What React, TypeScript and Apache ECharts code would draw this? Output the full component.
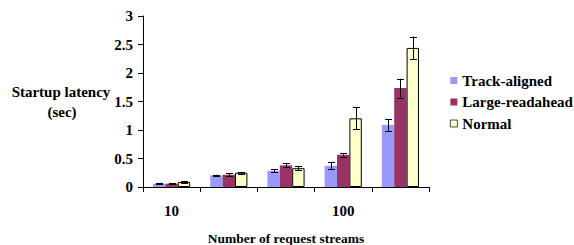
import React, { useEffect, useRef } from "react";
import * as echarts from "echarts";

const categories = ["10", "", "", "100", ""];
const seriesNames = ["Track-aligned", "Large-readahead", "Normal"];
const trackAligned = [0.058, 0.204, 0.285, 0.373, 1.09];
const largeReadahead = [0.058, 0.215, 0.38, 0.565, 1.735];
const normal = [0.087, 0.25, 0.33, 1.205, 2.44];
const trackAlignedErr = [0.01, 0.01, 0.03, 0.06, 0.105];
const largeReadaheadErr = [0.01, 0.03, 0.035, 0.03, 0.165];
const normalErr = [0.012, 0.015, 0.04, 0.19, 0.2];
const colors = ["#9999FF", "#993366", "#FFFFCC"];

const FONT = "'Liberation Serif', 'Times New Roman', serif";
const CAT_GAP = 0.35;

export default function App() {
  const ref = useRef<HTMLDivElement>(null);
  useEffect(() => {
    document.body.style.margin = "0";
    if (!ref.current) return;
    const chart = echarts.init(ref.current, undefined, { renderer: "svg" });
    const values = [trackAligned, largeReadahead, normal];
    const errs = [trackAlignedErr, largeReadaheadErr, normalErr];

    const barSeries = values.map((v, i) => ({
      name: seriesNames[i],
      type: "bar",
      data: v,
      barGap: "0%",
      barCategoryGap: CAT_GAP * 100 + "%",
      itemStyle: {
        color: colors[i],
        borderColor: i === 2 ? "#000" : undefined,
        borderWidth: i === 2 ? 1 : 0,
      },
      z: 2,
    }));

    const errSeries = values.map((v, i) => ({
      type: "custom",
      name: "err" + i,
      data: v.map((val, j) => [j, val - errs[i][j], val + errs[i][j]]),
      z: 5,
      silent: true,
      renderItem: (params: any, api: any) => {
        const x = api.value(0);
        const lo = api.coord([x, api.value(1)]);
        const hi = api.coord([x, api.value(2)]);
        const band = api.size([1, 0])[0];
        const bw = (band * (1 - CAT_GAP)) / 3;
        const cx = Math.round(lo[0] + (i - 1) * bw) + 0.5;
        const cap = 3.5;
        const style = { stroke: "#000", lineWidth: 1 };
        return {
          type: "group",
          children: [
            { type: "line", shape: { x1: cx, y1: lo[1], x2: cx, y2: hi[1] }, style },
            { type: "line", shape: { x1: cx - cap, y1: Math.round(lo[1]) + 0.5, x2: cx + cap, y2: Math.round(lo[1]) + 0.5 }, style },
            { type: "line", shape: { x1: cx - cap, y1: Math.round(hi[1]) + 0.5, x2: cx + cap, y2: Math.round(hi[1]) + 0.5 }, style },
          ],
        };
      },
    }));

    chart.setOption({
      animation: false,
      textStyle: { fontFamily: FONT },
      grid: { left: 143, right: 145, top: 16, bottom: 58, containLabel: false, outerBoundsMode: "none" },
      legend: {
        data: seriesNames,
        orient: "vertical",
        left: 445,
        top: 68,
        itemWidth: 7,
        itemHeight: 7,
        itemGap: 6.5,
        icon: "rect",
        itemStyle: { borderWidth: 0.7 },
        textStyle: { fontFamily: FONT, fontWeight: "bold", fontSize: 15, color: "#000" },
      },
      xAxis: {
        type: "category",
        data: categories,
        axisLine: { lineStyle: { color: "#000", width: 1 } },
        axisTick: { show: true, alignWithLabel: false, length: 5, lineStyle: { color: "#000" } },
        axisLabel: { interval: 0, margin: 16, fontFamily: FONT, fontWeight: "bold", fontSize: 15, color: "#000" },
        name: "Number of request streams",
        nameLocation: "middle",
        nameGap: 44,
        nameTextStyle: { fontFamily: FONT, fontWeight: "bold", fontSize: 13.5, color: "#000" },
      },
      yAxis: {
        type: "value",
        min: 0,
        max: 3,
        interval: 0.5,
        axisLine: { show: true, lineStyle: { color: "#000", width: 1 } },
        axisTick: { show: true, length: 5, lineStyle: { color: "#000" } },
        splitLine: { show: false },
        axisLabel: { margin: 10, fontFamily: FONT, fontWeight: "bold", fontSize: 15, color: "#000" },
      },
      graphic: [
        {
          type: "text",
          style: { text: "Startup latency", x: 61, y: 92, textAlign: "center", textVerticalAlign: "middle", fontFamily: FONT, fontWeight: "bold", fontSize: 15, fill: "#000" },
        },
        {
          type: "text",
          style: { text: "(sec)", x: 62, y: 112, textAlign: "center", textVerticalAlign: "middle", fontFamily: FONT, fontWeight: "bold", fontSize: 15, fill: "#000" },
        },
      ],
      series: [...barSeries, ...errSeries],
    });
    return () => chart.dispose();
  }, []);
  return <div ref={ref} style={{ width: 574, height: 245 }} />;
}
